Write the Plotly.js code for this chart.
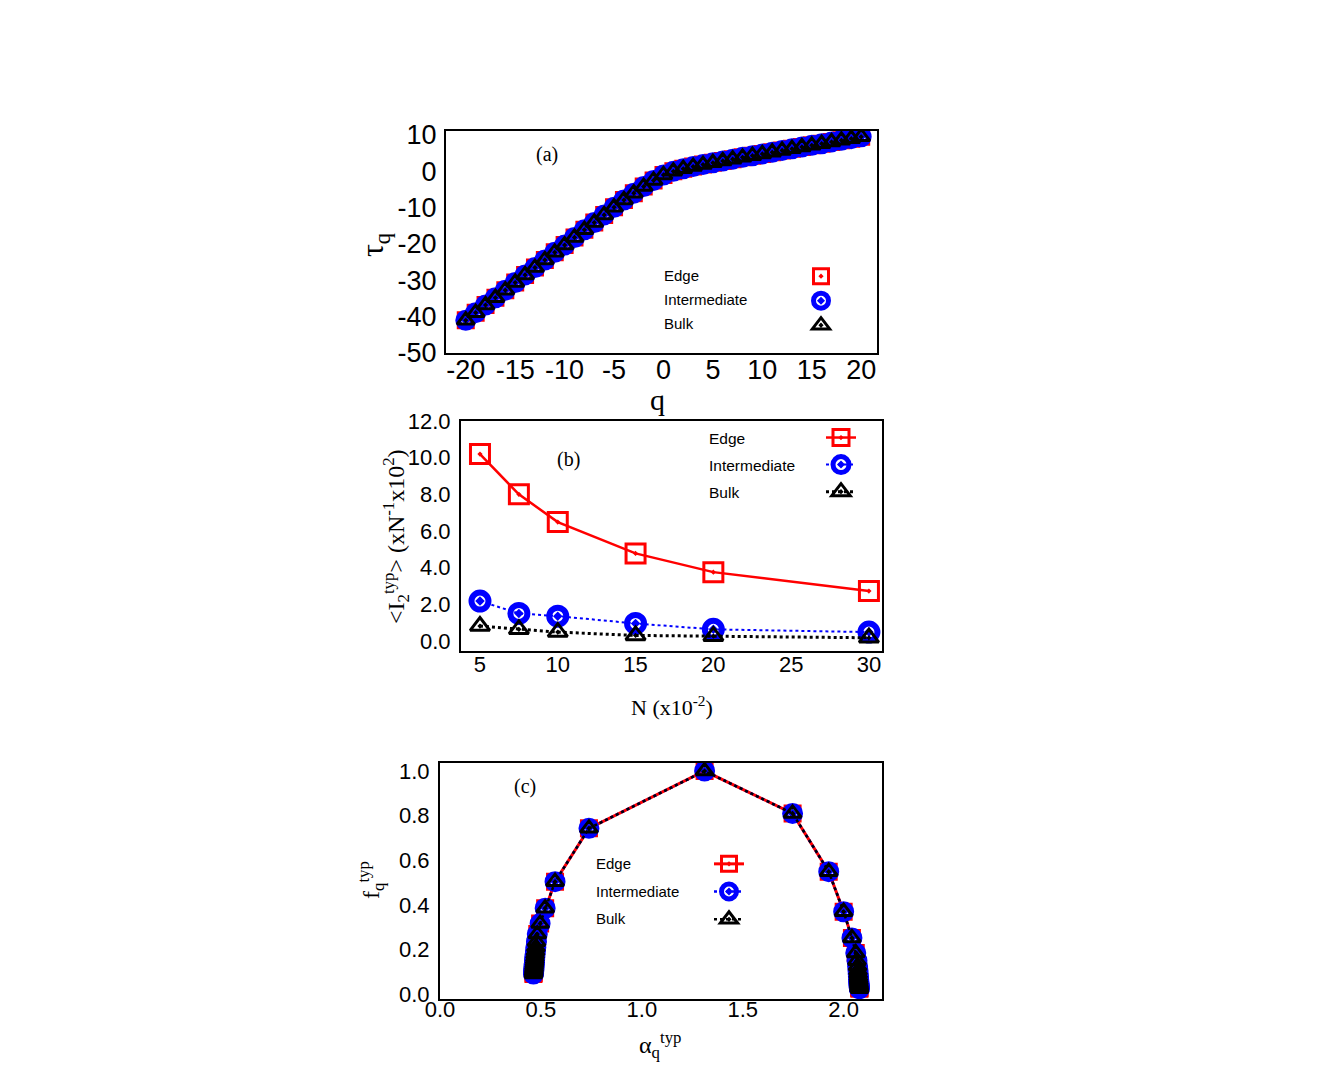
<!DOCTYPE html>
<html>
<head>
<meta charset="utf-8">
<script src="https://cdn.plot.ly/plotly-3.0.1.min.js"></script>
<style>
body { margin: 0; background: #fff; }
#fig { width: 1329px; height: 1080px; }
</style>
</head>
<body>
<div id="fig"></div>
<script>
// panel (a): tau_q against q, the three regions sit on top of each other
var qVals = [-20,-19,-18,-17,-16,-15,-14,-13,-12,-11,-10,-9,-8,-7,-6,-5,-4,-3,-2,-1,
	0,1,2,3,4,5,6,7,8,9,10,11,12,13,14,15,16,17,18,19,20];
var tauQ = [-41.0,-38.9,-36.8,-34.8,-32.7,-30.6,-28.5,-26.5,-24.4,-22.3,
	-20.3,-18.2,-16.1,-14.1,-12.0,-9.9,-7.9,-6.0,-4.2,-2.5,
	-1.0,0.0,0.7,1.3,1.85,2.35,2.85,3.35,3.85,4.3,
	4.8,5.25,5.75,6.2,6.7,7.15,7.6,8.1,8.55,9.0,9.5];
var qTicks = [-20,-15,-10,-5,0,5,10,15,20];
var qTickText = ["-20","-15","-10","-5","0","5","10","15","20"];
var tauTicks = [-50,-40,-30,-20,-10,0,10];
var tauTickText = ["-50","-40","-30","-20","-10","0","10"];

// panel (b): typical IPR against system size
var sizeN = [5, 7.5, 10, 15, 20, 30];
var iprEdge = [10.2, 8.0, 6.49, 4.78, 3.76, 2.73];
var iprInter = [2.18, 1.51, 1.36, 0.96, 0.64, 0.49];
var iprBulk = [0.82, 0.64, 0.49, 0.31, 0.27, 0.18];

// panel (c): singularity spectrum, ordered from q=-20 to q=20
var alphaQ = [2.078,2.078,2.077,2.077,2.077,2.076,2.076,2.075,2.075,2.074,
	2.073,2.072,2.071,2.069,2.066,2.06,2.041,2.0,1.926,1.747,
	1.311,
	0.738,0.57,0.521,0.496,0.482,0.478,0.475,0.473,0.471,0.47,
	0.469,0.468,0.467,0.466,0.466,0.465,0.465,0.464,0.464,0.463];
var fQ = [0.024,0.027,0.03,0.033,0.037,0.042,0.047,0.053,0.06,0.068,
	0.078,0.09,0.105,0.125,0.15,0.184,0.252,0.369,0.549,0.81,
	1.0,
	0.743,0.504,0.385,0.316,0.269,0.235,0.21,0.192,0.178,0.165,
	0.154,0.144,0.135,0.127,0.12,0.113,0.107,0.101,0.095,0.09];

var legendNames = ["Edge", "Intermediate", "Bulk"];

var SANS = "Liberation Sans, Arial, sans-serif";
var SERIF = "Liberation Serif, Times New Roman, serif";

var redMark = {symbol: "square-open-dot", color: "#ff0000", line: {color: "#ff0000", width: 3}};
var blueMark = {symbol: "circle-open-dot", color: "#0000ff", line: {color: "#0000ff", width: 6}};
var blackMark = {symbol: "triangle-up-open-dot", color: "#000000", line: {color: "#000000", width: 3}};

mark = function(base, size){
	return {symbol: base.symbol, color: base.color, size: size,
		line: {color: base.line.color, width: base.line.width}};
};

var data = [
	// (a)
	{x: qVals, y: tauQ, xaxis: "x", yaxis: "y", mode: "markers", name: " ", legend: "legend",
		marker: mark(redMark, 15)},
	{x: qVals, y: tauQ, xaxis: "x", yaxis: "y", mode: "markers", name: " ", legend: "legend",
		marker: mark(blueMark, 15)},
	{x: qVals, y: tauQ, xaxis: "x", yaxis: "y", mode: "markers", name: " ", legend: "legend",
		marker: mark(blackMark, 15)},
	// (b)
	{x: sizeN, y: iprEdge, xaxis: "x2", yaxis: "y2", mode: "lines+markers", name: " ", legend: "legend2",
		line: {color: "#ff0000", width: 2.5}, marker: mark(redMark, 19)},
	{x: sizeN, y: iprInter, xaxis: "x2", yaxis: "y2", mode: "lines+markers", name: " ", legend: "legend2",
		line: {color: "#0000ff", width: 2, dash: "dot"}, marker: mark(blueMark, 17)},
	{x: sizeN, y: iprBulk, xaxis: "x2", yaxis: "y2", mode: "lines+markers", name: " ", legend: "legend2",
		line: {color: "#000000", width: 3, dash: "dot"}, marker: mark(blackMark, 17)},
	// (c)
	{x: alphaQ, y: fQ, xaxis: "x3", yaxis: "y3", mode: "lines+markers", name: " ", legend: "legend3",
		line: {color: "#ff0000", width: 3}, marker: mark(redMark, 15)},
	{x: alphaQ, y: fQ, xaxis: "x3", yaxis: "y3", mode: "lines+markers", name: " ", legend: "legend3",
		line: {color: "#0000ff", width: 2.5, dash: "dot"}, marker: mark(blueMark, 15)},
	{x: alphaQ, y: fQ, xaxis: "x3", yaxis: "y3", mode: "lines+markers", name: " ", legend: "legend3",
		line: {color: "#000000", width: 2.5, dash: "dot"}, marker: mark(blackMark, 15)}
];

axis = function(domain, range, extra){
	var a = {domain: domain, range: range, showline: true, mirror: true,
		linecolor: "#000", linewidth: 2, showgrid: false, zeroline: false,
		ticks: "", tickangle: 0, tickfont: {family: SANS, size: 22, color: "#000"}};
	for (var k in extra){ a[k] = extra[k]; }
	return a;
};

// page pixel -> paper coordinates
px = function(x){ return x / 1329; };
py = function(y){ return (1080 - y) / 1080; };

var annotations = [];
note = function(text, x, y, size, family, extra){
	var a = {text: text, x: px(x), y: py(y), xref: "paper", yref: "paper",
		xanchor: "center", yanchor: "middle",
		showarrow: false, font: {family: family, size: size, color: "#000"}};
	for (var k in extra){ a[k] = extra[k]; }
	annotations.push(a);
};

// axis titles
note("τ<sub>q</sub>", 374, 245, 32, SERIF, {textangle: -90});
note("q", 657, 399, 30, SERIF);
note("&lt;I<sub>2</sub><sup>typ</sup>&gt; (xN<sup>-1</sup>x10<sup>2</sup>)", 396, 537, 24, SERIF, {textangle: -90});
note("N (x10<sup>-2</sup>)", 672, 706, 22, SERIF);
note("f<sub>q</sub><sup>typ</sup>", 371, 880, 24, SERIF, {textangle: -90});
note("α<sub>q</sub><sup>typ</sup>", 660, 1045, 24, SERIF);
// panel labels
note("(a)", 547, 155, 20, SERIF);
note("(b)", 568, 459, 20, SERIF);
note("(c)", 525, 787, 20, SERIF);
// legend labels (the symbols come from the plotly legends, to the right)
var legText = [[662, 275, 24, 15], [707, 438, 27, 15.5], [594, 863, 28, 15]];
for (let p = 0; p < 3; p++){
	for (let i = 0; i < 3; i++){
		note(legendNames[i], legText[p][0], legText[p][1] + i*legText[p][2], legText[p][3], SANS, {xanchor: "left"});
	}
}

var layout = {
	width: 1329, height: 1080,
	margin: {l: 0, r: 0, t: 0, b: 0},
	paper_bgcolor: "#fff", plot_bgcolor: "#fff",
	showlegend: true,
	xaxis: axis([px(446), px(877)], [-22, 21.6], {anchor: "y", tickvals: qTicks, ticktext: qTickText,
		ticklabelstandoff: -8, tickfont: {family: SANS, size: 27, color: "#000"}}),
	yaxis: axis([py(353), py(131)], [-50, 11.1], {anchor: "x", tickvals: tauTicks, ticktext: tauTickText,
		ticklabelstandoff: 2, tickfont: {family: SANS, size: 27, color: "#000"}}),
	xaxis2: axis([px(461), px(882)], [3.78, 30.84], {anchor: "y2", tickvals: [5,10,15,20,25,30],
		ticklabelstandoff: -7}),
	yaxis2: axis([py(651), py(421)], [-0.54, 12.0], {anchor: "x2", tickvals: [0,2,4,6,8,10,12], tickformat: ".1f",
		ticklabelstandoff: 4}),
	xaxis3: axis([px(440), px(882)], [0, 2.19], {anchor: "y3", tickvals: [0,0.5,1,1.5,2], tickformat: ".1f",
		ticklabelstandoff: -10}),
	yaxis3: axis([py(999), py(763)], [-0.022, 1.036], {anchor: "x3", tickvals: [0,0.2,0.4,0.6,0.8,1], tickformat: ".1f",
		ticklabelstandoff: 4}),
	legend: {x: px(801), y: py(259), xanchor: "left", yanchor: "top", bgcolor: "rgba(0,0,0,0)",
		font: {size: 16.5}, itemsizing: "trace"},
	legend2: {x: px(821), y: py(419), xanchor: "left", yanchor: "top", bgcolor: "rgba(0,0,0,0)",
		font: {size: 18.5}, itemsizing: "trace"},
	legend3: {x: px(709), y: py(845), xanchor: "left", yanchor: "top", bgcolor: "rgba(0,0,0,0)",
		font: {size: 19}, itemsizing: "trace"},
	annotations: annotations
};

Plotly.newPlot("fig", data, layout, {staticPlot: true});
</script>
</body>
</html>
